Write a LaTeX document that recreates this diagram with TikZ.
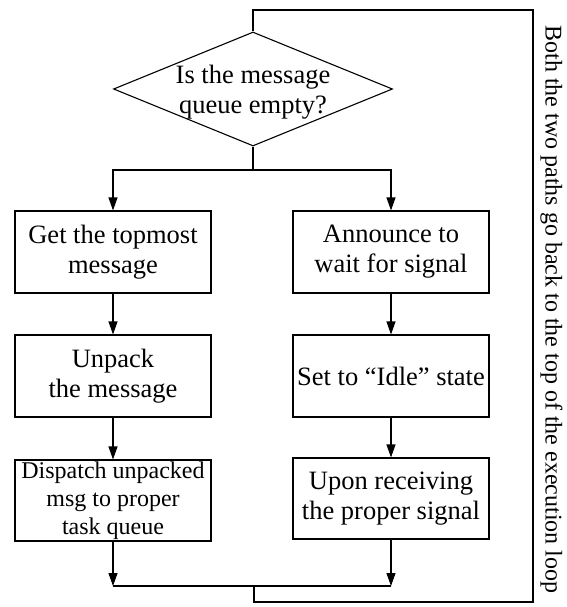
\documentclass[tikz,border=0pt]{standalone}
\usepackage{fontspec}
\setmainfont{Liberation Serif}
\usetikzlibrary{shapes.geometric,arrows.meta}

\begin{document}
\begin{tikzpicture}[x=1pt,y=-1pt,line width=1.1pt,line join=miter,
    box/.style={draw,minimum width=196pt,minimum height=82pt,inner sep=0pt,
      align=center,font=\fontsize{26.5}{30}\selectfont},
    decision/.style={draw,diamond,minimum width=279pt,minimum height=114pt,inner sep=0pt},
    flow/.style={-{Triangle[length=13pt,width=9pt]}}]
  % canvas 566 x 607 (px)
  \useasboundingbox (0,0) rectangle (566,607);

  % ---- test at the top ----
  \node[decision] (empty) at (253,89) {};
  \node[align=center,inner sep=0pt,font=\fontsize{26.5}{30}\selectfont] (emptytext)
    at (253,92) {Is the message\\queue empty?};

  % ---- left column (queue not empty) ----
  \node[box] (topmost) at (113,252) {Get the topmost\\message};
  \node[box] (unpack) at (113,376) {Unpack\\the message};
  \node[box,minimum height=81pt,font=\fontsize{24}{28}\selectfont] (dispatch)
    at (113,500.5) {Dispatch unpacked\\msg to proper\\task queue};

  % ---- right column (queue empty) ----
  \node[box] (announce) at (391,252) {Announce to\\wait for signal};
  \node[box] (idle) at (391,376) {Set to “Idle” state};
  \node[box,minimum height=81pt] (signal) at (391,498.5) {Upon receiving\\the proper signal};

  % fork under the diamond
  \coordinate (fork) at (253,170);
  \draw (empty.south) -- (fork);
  \draw[flow] (fork) -| (topmost.north);
  \draw[flow] (fork) -| (announce.north);

  % arrows down each column
  \draw[flow] (topmost) -- (unpack);
  \draw[flow] (unpack) -- (dispatch);
  \draw[flow] (announce) -- (idle);
  \draw[flow] (idle) -- (signal);

  % join at the bottom
  \coordinate (join) at (254,586);
  \draw[flow] (dispatch) -- (dispatch |- join);
  \draw[flow] (signal) -- (signal |- join);
  \draw (dispatch |- join) -- (signal |- join);

  % loop back to the top
  \coordinate (loopbottom) at (254,602);
  \coordinate (loopcorner) at (533,10);
  \draw (join) -- (loopbottom) -| (loopcorner) -| (empty.north);

  % note along the loop
  \node[rotate=-90,inner sep=0pt,font=\fontsize{24}{28}\selectfont] (note)
    at (551.5,309.5) {Both the two paths go back to the top of the execution loop};
\end{tikzpicture}
\end{document}
